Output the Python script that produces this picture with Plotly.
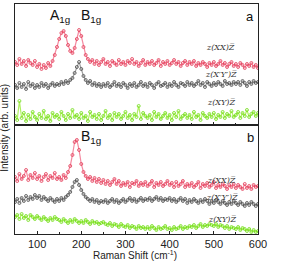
import plotly.graph_objects as go

# Raman shift axis (cm^-1)
shift = list(range(50, 605, 5))

# Panel a (arbitrary, offset intensities)
a_xx = [63, 60, 66, 61, 64, 59, 65, 62, 60, 64,
        58, 61, 56, 60, 57, 62, 59, 64, 70, 78,
        86, 92, 94, 89, 80, 74, 72, 77, 86, 95,
        89, 78, 70, 66, 63, 65, 61, 64, 60, 63,
        66, 61, 63, 59, 64, 62, 60, 65, 61, 63,
        60, 64, 62, 66, 61, 63, 59, 62, 65, 60,
        63, 61, 64, 60, 62, 65, 59, 63, 61, 64,
        60, 62, 65, 61, 63, 59, 62, 64, 60, 63,
        61, 64, 59, 62, 60, 63, 61, 58, 62, 60,
        63, 59, 61, 64, 60, 62, 58, 61, 63, 59,
        61, 58, 62, 60, 57, 61, 59, 62, 58, 60, 57]
a_xpyp = [40, 37, 42, 38, 41, 36, 43, 39, 41, 37,
          40, 38, 42, 39, 41, 37, 40, 42, 39, 41,
          40, 43, 41, 44, 42, 45, 47, 52, 58, 63,
          56, 49, 45, 42, 44, 40, 42, 39, 41, 38,
          41, 39, 42, 38, 40, 43, 39, 41, 38, 42,
          40, 37, 41, 39, 42, 38, 40, 43, 39, 41,
          38, 42, 40, 37, 41, 43, 39, 40, 42, 38,
          41, 39, 43, 40, 38, 42, 41, 39, 43, 40,
          42, 39, 41, 44, 40, 42, 38, 43, 41, 39,
          42, 40, 43, 41, 39, 44, 41, 42, 40, 43,
          41, 43, 40, 44, 42, 39, 43, 41, 44, 42, 43]
a_xy = [9, 5, 24, 7, 12, 4, 10, 6, 13, 8,
        5, 11, 7, 14, 6, 9, 4, 12, 8, 10,
        6, 13, 9, 5, 11, 7, 15, 8, 10, 6,
        12, 7, 9, 4, 13, 8, 10, 6, 11, 5,
        9, 14, 7, 10, 5, 12, 8, 11, 6, 9,
        13, 7, 10, 5, 11, 8, 19, 6, 12, 9,
        7, 10, 5, 13, 8, 11, 6, 9, 12, 7,
        10, 5, 12, 8, 14, 6, 9, 11, 7, 10,
        6, 13, 8, 10, 5, 12, 9, 7, 11, 8,
        12, 6, 10, 8, 13, 7, 11, 9, 14, 8,
        10, 13, 7, 12, 9, 15, 8, 11, 13, 9, 12]

# Panel b
b_xx = [57, 53, 60, 55, 58, 64, 54, 59, 56, 61,
        55, 58, 53, 57, 60, 54, 58, 56, 61, 55,
        57, 54, 59, 56, 62, 68, 79, 92, 94, 84,
        70, 62, 58, 55, 57, 53, 56, 52, 55, 51,
        54, 50, 53, 49, 52, 55, 50, 53, 48, 51,
        49, 52, 47, 51, 50, 53, 48, 51, 49, 52,
        48, 50, 53, 47, 51, 49, 52, 48, 50, 53,
        49, 51, 47, 52, 48, 50, 53, 47, 50, 48,
        51, 47, 49, 52, 46, 50, 48, 51, 47, 49,
        52, 46, 49, 47, 50, 48, 45, 49, 47, 50,
        46, 49, 47, 45, 50, 46, 48, 45, 49, 47, 48]
b_xpyp = [32, 35, 31, 36, 33, 38, 34, 37, 35, 39,
          36, 38, 34, 37, 35, 33, 36, 34, 32, 35,
          33, 36, 34, 37, 39, 42, 47, 52, 54, 49,
          44, 40, 37, 35, 33, 35, 32, 34, 31, 33,
          32, 34, 31, 33, 35, 32, 34, 31, 33, 35,
          32, 34, 36, 33, 35, 32, 34, 36, 33, 35,
          34, 36, 33, 35, 37, 34, 36, 33, 35, 34,
          36, 33, 35, 32, 34, 36, 33, 35, 31, 34,
          32, 35, 33, 31, 34, 32, 35, 33, 30, 33,
          31, 34, 32, 30, 33, 31, 29, 32, 30, 33,
          31, 29, 32, 30, 28, 31, 29, 32, 30, 28, 30]
b_xy = [17, 19, 15, 20, 16, 18, 14, 19, 17, 15,
        18, 16, 14, 17, 15, 13, 16, 14, 17, 15,
        14, 12, 15, 13, 11, 14, 12, 15, 13, 11,
        13, 11, 14, 12, 10, 13, 11, 12, 10, 11,
        12, 10, 9, 11, 8, 10, 9, 7, 10, 8,
        7, 9, 6, 8, 7, 5, 8, 6, 7, 5,
        7, 5, 8, 6, 4, 7, 5, 6, 8, 5,
        6, 4, 7, 5, 6, 8, 5, 7, 6, 8,
        7, 9, 6, 8, 10, 7, 9, 8, 10, 9,
        8, 10, 7, 9, 8, 6, 8, 5, 7, 6,
        5, 7, 4, 6, 5, 3, 5, 2, 4, 2, 3]

x_ticks = [100, 200, 300, 400, 500, 600]
pol_labels = ["z(XX)Z\u0305", "z(X\u2032Y\u2032)Z\u0305", "z(XY)Z\u0305"]

RED_L, RED_M = "#F58AA0", "#E23A56"
GRY_L, GRY_M = "#A0A0A0", "#4A4A4A"
GRN_L, GRN_M = "#B0F060", "#70DC18"

fig = go.Figure()

def add(y, xa, ya, lc, mc):
    fig.add_trace(go.Scatter(
        x=shift, y=y, xaxis=xa, yaxis=ya, mode="lines+markers",
        line=dict(color=lc, width=1.2),
        marker=dict(symbol="circle-open", size=3, color=mc, line=dict(width=0.8)),
        showlegend=False, hoverinfo="skip"))

add(a_xy, "x2", "y2", GRN_L, GRN_M)
add(a_xpyp, "x2", "y2", GRY_L, GRY_M)
add(a_xx, "x2", "y2", RED_L, RED_M)
add(b_xy, "x", "y", GRN_L, GRN_M)
add(b_xpyp, "x", "y", GRY_L, GRY_M)
add(b_xx, "x", "y", RED_L, RED_M)

axis_common = dict(showline=True, linecolor="#222", linewidth=1, mirror=True,
                   showgrid=False, zeroline=False)

fig.update_layout(
    width=305, height=265,
    margin=dict(l=15, r=47, t=4, b=31),
    paper_bgcolor="white", plot_bgcolor="white",
    font=dict(family="Liberation Sans, Arial, sans-serif", size=11, color="#222"),
    xaxis=dict(range=[50, 600], tickvals=x_ticks, ticks="inside", ticklen=3,
               tickcolor="#222", anchor="y",
               minor=dict(ticks="inside", ticklen=2, dtick=50, tick0=50, tickcolor="#222"),
               tickfont=dict(size=11), **axis_common),
    xaxis2=dict(range=[50, 600], tickvals=x_ticks, ticks="inside", ticklen=3,
                tickcolor="#222", anchor="y2", matches="x", showticklabels=False,
                minor=dict(ticks="inside", ticklen=2, dtick=50, tick0=50, tickcolor="#222"),
                **axis_common),
    yaxis=dict(domain=[0, 0.474], range=[0, 109], showticklabels=False, ticks="",
               **axis_common),
    yaxis2=dict(domain=[0.474, 1], range=[0, 121], showticklabels=False, ticks="",
                **axis_common),
)

ann = []
big = dict(family="Liberation Sans, Arial, sans-serif", size=14, color="#111")
ann.append(dict(x=152, y=109, xref="x2", yref="y2", text="A<sub>1g</sub>",
                showarrow=False, font=big))
ann.append(dict(x=222, y=109, xref="x2", yref="y2", text="B<sub>1g</sub>",
                showarrow=False, font=big))
ann.append(dict(x=222, y=97, xref="x", yref="y", text="B<sub>1g</sub>",
                showarrow=False, font=big))
ann.append(dict(x=582, y=109, xref="x2", yref="y2", text="a", showarrow=False,
                font=dict(family="Liberation Sans, Arial", size=13, color="#111")))
ann.append(dict(x=582, y=96, xref="x", yref="y", text="b", showarrow=False,
                font=dict(family="Liberation Sans, Arial", size=13, color="#111")))

pol_font = dict(family="DejaVu Serif, Liberation Serif, serif", size=8, color="#333")
for lab, yy in zip(pol_labels, [77, 50, 22]):
    ann.append(dict(x=516, y=yy, xref="x2", yref="y2", text="<i>" + lab + "</i>",
                    showarrow=False, font=pol_font))
for lab, yy in zip(pol_labels, [53, 36, 15]):
    ann.append(dict(x=518, y=yy, xref="x", yref="y", text="<i>" + lab + "</i>",
                    showarrow=False, font=pol_font))

ann.append(dict(x=-0.043, y=0.46, xref="paper", yref="paper", xanchor="center",
                yanchor="middle", text="Intensity (arb. units)", textangle=-90,
                showarrow=False, font=dict(size=10, color="#222")))
ann.append(dict(x=0.494, y=-0.091, xref="paper", yref="paper", yanchor="middle",
                text="Raman Shift (cm<sup>-1</sup>)", showarrow=False,
                font=dict(size=10, color="#222")))
fig.update_layout(annotations=ann)

fig.write_html("out.html", config={"displayModeBar": False},
               post_script="document.body.style.margin='0';document.body.style.overflow='hidden';")
